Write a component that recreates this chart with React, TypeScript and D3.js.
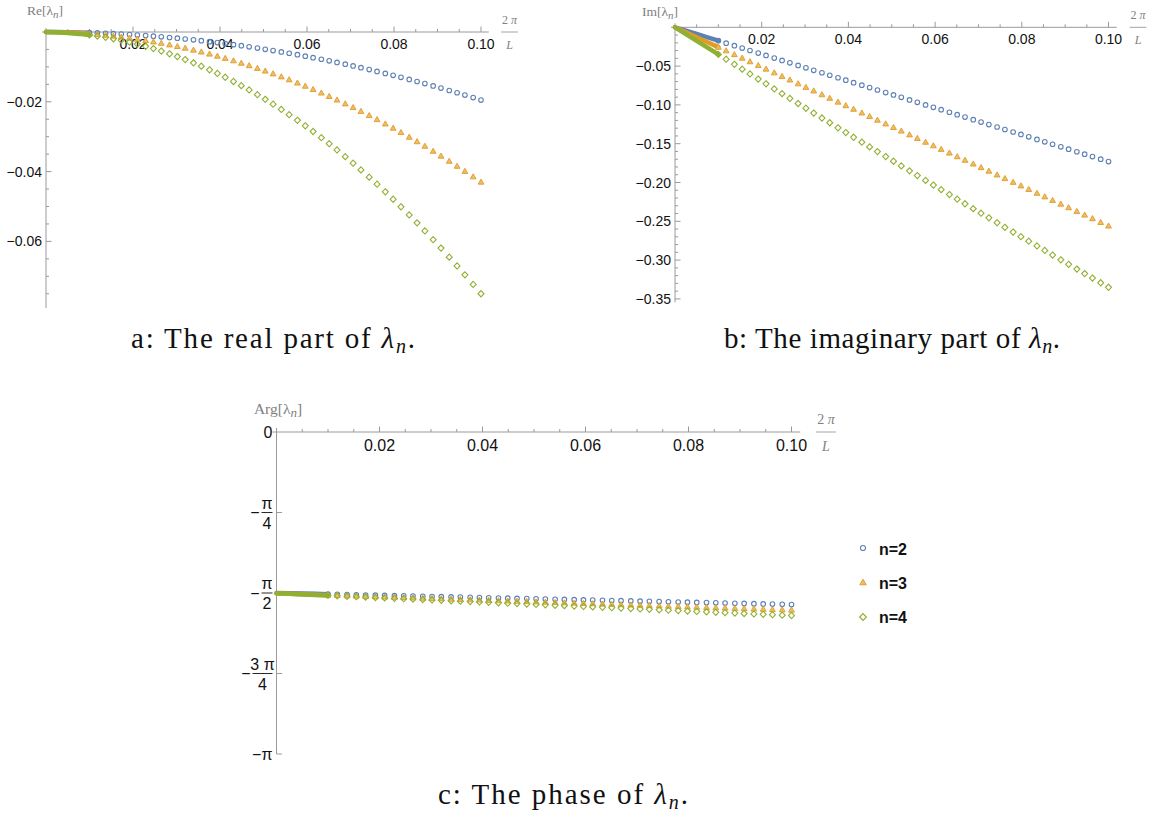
import React from 'react';
import * as d3 from 'd3';

// sampled values of 2π/L (sparse part of every curve)
const kValues = [
  0.0100, 0.0118, 0.0137, 0.0155, 0.0173, 0.0192, 0.0210, 0.0229, 0.0247, 0.0265,
  0.0284, 0.0302, 0.0320, 0.0339, 0.0357, 0.0376, 0.0394, 0.0412, 0.0431, 0.0449,
  0.0467, 0.0486, 0.0504, 0.0522, 0.0541, 0.0559, 0.0578, 0.0596, 0.0614, 0.0633,
  0.0651, 0.0669, 0.0688, 0.0706, 0.0724, 0.0743, 0.0761, 0.0780, 0.0798, 0.0816,
  0.0835, 0.0853, 0.0871, 0.0890, 0.0908, 0.0927, 0.0945, 0.0963, 0.0982, 0.1000,
];
// densely sampled start (0 .. 0.01), drawn as a smeared band
const kDense = [0, 0.0025, 0.005, 0.0075, 0.01];

const reN2 = [
  -0.0002, -0.00027, -0.00037, -0.00047, -0.00058, -0.00072, -0.00086, -0.00102, -0.00119, -0.00137,
  -0.00157, -0.00178, -0.0020, -0.00224, -0.00248, -0.00276, -0.00303, -0.00331, -0.00362, -0.00393,
  -0.00425, -0.00461, -0.00495, -0.00531, -0.00571, -0.00609, -0.00651, -0.00693, -0.00735, -0.00781,
  -0.00826, -0.00873, -0.00923, -0.00972, -0.01022, -0.01076, -0.01129, -0.01186, -0.01242, -0.01298,
  -0.0136, -0.01419, -0.01479, -0.01545, -0.01608, -0.01676, -0.01741, -0.01808, -0.0188, -0.0195,
];
const reN3 = [
  -0.00052, -0.0007, -0.00093, -0.00116, -0.00143, -0.00174, -0.00206, -0.00243, -0.00281, -0.00321,
  -0.00367, -0.00413, -0.00462, -0.00517, -0.00571, -0.00631, -0.00691, -0.00754, -0.00823, -0.00892,
  -0.00963, -0.01041, -0.01117, -0.01197, -0.01283, -0.01368, -0.01461, -0.01552, -0.01645, -0.01746,
  -0.01845, -0.01947, -0.02057, -0.02164, -0.02274, -0.02393, -0.02508, -0.02633, -0.02754, -0.02878,
  -0.03012, -0.03141, -0.03273, -0.03416, -0.03554, -0.03702, -0.03845, -0.03991, -0.04148, -0.043,
];
const reN4 = [
  -0.00084, -0.00115, -0.00153, -0.00193, -0.00239, -0.00292, -0.00347, -0.00411, -0.00476, -0.00546,
  -0.00625, -0.00705, -0.0079, -0.00884, -0.00979, -0.01084, -0.01188, -0.01297, -0.01418, -0.01537,
  -0.01661, -0.01797, -0.0193, -0.02069, -0.0222, -0.02369, -0.0253, -0.02688, -0.02851, -0.03028,
  -0.03201, -0.03379, -0.03571, -0.03759, -0.03951, -0.04159, -0.04361, -0.0458, -0.04792, -0.05009,
  -0.05243, -0.05469, -0.05701, -0.05951, -0.06192, -0.06451, -0.06703, -0.06959, -0.07234, -0.075,
];

const imN2 = [
  -0.0173, -0.0204, -0.0237, -0.0268, -0.0299, -0.0332, -0.0363, -0.0396, -0.0427, -0.0458,
  -0.0491, -0.0522, -0.0554, -0.0586, -0.0618, -0.065, -0.0682, -0.0713, -0.0746, -0.0777,
  -0.0808, -0.0841, -0.0872, -0.0903, -0.0936, -0.0967, -0.1, -0.1031, -0.1062, -0.1095,
  -0.1126, -0.1157, -0.119, -0.1221, -0.1253, -0.1285, -0.1317, -0.1349, -0.1381, -0.1412,
  -0.1445, -0.1476, -0.1507, -0.154, -0.1571, -0.1604, -0.1635, -0.1666, -0.1699, -0.173,
];
const imN3 = [
  -0.0256, -0.0302, -0.0351, -0.0397, -0.0443, -0.0492, -0.0538, -0.0586, -0.0632, -0.0678,
  -0.0727, -0.0773, -0.0819, -0.0868, -0.0914, -0.0963, -0.1009, -0.1055, -0.1103, -0.1149,
  -0.1196, -0.1244, -0.129, -0.1336, -0.1385, -0.1431, -0.148, -0.1526, -0.1572, -0.162,
  -0.1667, -0.1713, -0.1761, -0.1807, -0.1853, -0.1902, -0.1948, -0.1997, -0.2043, -0.2089,
  -0.2138, -0.2184, -0.223, -0.2278, -0.2324, -0.2373, -0.2419, -0.2465, -0.2514, -0.256,
];
const imN4 = [
  -0.0349, -0.0411, -0.0477, -0.0539, -0.0601, -0.0667, -0.0728, -0.0794, -0.0855, -0.0917,
  -0.0982, -0.1043, -0.1105, -0.1169, -0.123, -0.1295, -0.1356, -0.1417, -0.1481, -0.1541,
  -0.1602, -0.1666, -0.1726, -0.1786, -0.185, -0.191, -0.1973, -0.2033, -0.2092, -0.2155,
  -0.2215, -0.2274, -0.2337, -0.2396, -0.2455, -0.2518, -0.2577, -0.2639, -0.2698, -0.2756,
  -0.2818, -0.2876, -0.2935, -0.2996, -0.3054, -0.3116, -0.3174, -0.3231, -0.3292, -0.335,
];

const argN2 = [
  -1.5821, -1.5841, -1.5862, -1.5883, -1.5903, -1.5924, -1.5945, -1.5966, -1.5986, -1.6007,
  -1.6028, -1.6048, -1.6069, -1.609, -1.611, -1.6132, -1.6152, -1.6172, -1.6194, -1.6214,
  -1.6234, -1.6255, -1.6275, -1.6296, -1.6317, -1.6337, -1.6358, -1.6379, -1.6399, -1.642,
  -1.644, -1.646, -1.6482, -1.6502, -1.6522, -1.6543, -1.6563, -1.6585, -1.6605, -1.6625,
  -1.6646, -1.6666, -1.6686, -1.6708, -1.6728, -1.6749, -1.6769, -1.6789, -1.681, -1.683,
];
const argN3 = [
  -1.5911, -1.5941, -1.5972, -1.6001, -1.6031, -1.6062, -1.6092, -1.6123, -1.6152, -1.6182,
  -1.6213, -1.6242, -1.6272, -1.6302, -1.6332, -1.6363, -1.6392, -1.6422, -1.6453, -1.6482,
  -1.6512, -1.6543, -1.6572, -1.6601, -1.6632, -1.6661, -1.6692, -1.6721, -1.675, -1.6782,
  -1.6811, -1.684, -1.6871, -1.69, -1.6929, -1.696, -1.6989, -1.7019, -1.7048, -1.7077,
  -1.7108, -1.7137, -1.7166, -1.7196, -1.7225, -1.7256, -1.7284, -1.7313, -1.7344, -1.7372,
];
const argN4 = [
  -1.5949, -1.5988, -1.6028, -1.6067, -1.6105, -1.6146, -1.6185, -1.6225, -1.6264, -1.6303,
  -1.6344, -1.6383, -1.6422, -1.6463, -1.6502, -1.6543, -1.6582, -1.6621, -1.6662, -1.6702,
  -1.6741, -1.6782, -1.6822, -1.6861, -1.6902, -1.6942, -1.6983, -1.7023, -1.7062, -1.7104,
  -1.7143, -1.7183, -1.7225, -1.7264, -1.7303, -1.7345, -1.7385, -1.7427, -1.7466, -1.7505,
  -1.7547, -1.7587, -1.7626, -1.7668, -1.7708, -1.7749, -1.7789, -1.7828, -1.787, -1.7911,
];

const reDense = [
  [0, -0.00001, -0.00005, -0.00011, -0.0002],
  [0, -0.00005, -0.00016, -0.00031, -0.00052],
  [0, -0.0001, -0.00031, -0.00054, -0.00084],
];
const imDense = [
  [0, -0.0043, -0.0086, -0.0129, -0.0173],
  [0, -0.0064, -0.0128, -0.0192, -0.0256],
  [0, -0.0087, -0.0175, -0.0262, -0.0349],
];
const argDense = [
  [-1.5708, -1.5736, -1.5764, -1.5793, -1.5821],
  [-1.5747, -1.5788, -1.5829, -1.587, -1.5911],
  [-1.5737, -1.579, -1.5843, -1.5896, -1.5949],
];

const seriesLabels = ['n=2', 'n=3', 'n=4'];
const colors = ['#5e81b5', '#e19c24', '#8fb032'];
const shapes = ['circle', 'triangle', 'diamond'];

const kTicks = [0.02, 0.04, 0.06, 0.08, 0.1];
const reTicks = [-0.02, -0.04, -0.06];
const imTicks = [-0.05, -0.1, -0.15, -0.2, -0.25, -0.3, -0.35];
const argTicks = [0, -Math.PI / 4, -Math.PI / 2, (-3 * Math.PI) / 4, -Math.PI];
const argTickTop = ['0', 'π', 'π', '3 π', '−π'];
const argTickBottom = ['', '4', '2', '4', ''];

const SANS = 'Liberation Sans, Arial, sans-serif';
const SERIF = 'Liberation Serif, Times New Roman, serif';
const AXIS = '#9a9a9a';
const fmt = d3.format('.2f');
const near = (list: number[], v: number) => list.some((m) => Math.abs(m - v) < 1e-9);

function Marker({ shape, x, y, color, s = 1 }: any) {
  if (shape === 'circle')
    return <circle cx={x} cy={y} r={2.3 * s} fill="none" stroke={color} strokeWidth={1.1} />;
  if (shape === 'triangle')
    return (
      <path
        transform={`translate(${x},${y}) scale(${s})`}
        d="M0,-3L2.9,2.1L-2.9,2.1Z"
        fill="#ecbd6c"
        stroke={color}
        strokeWidth={0.9}
      />
    );
  return (
    <path
      transform={`translate(${x},${y}) scale(${s})`}
      d="M0,-3.1L3,0L0,3.1L-3,0Z"
      fill="none"
      stroke={color}
      strokeWidth={1.1}
    />
  );
}

function Panel(props: any) {
  const { x, y, xEnd, yEnd, yMajor, yMinor, fs, sparse, dense, name, nameX, nameY, fracX, argLabels } = props;
  const x0 = x(0);
  const y0 = y(0);
  const line = d3
    .line<[number, number]>()
    .x((d) => x(d[0]))
    .y((d) => y(d[1]));
  const xMinor = x.ticks(20).filter((v: number) => v > 0 && v <= xEnd && !near(kTicks, v));
  const fracFs = fs - 2;

  return (
    <g>
      {/* axes */}
      <line x1={x0 - 4} x2={x(xEnd)} y1={y0} y2={y0} stroke={AXIS} />
      <line x1={x0} x2={x0} y1={y0 - 4} y2={y(yEnd)} stroke={AXIS} />
      {xMinor.map((v: number) => (
        <line key={'xm' + v} x1={x(v)} x2={x(v)} y1={y0} y2={y0 - 3} stroke={AXIS} />
      ))}
      {kTicks.map((v) => (
        <g key={'xt' + v}>
          <line x1={x(v)} x2={x(v)} y1={y0} y2={y0 - 5.5} stroke={AXIS} />
          <text x={x(v)} y={y0 + fs * 1.2} textAnchor="middle" fontSize={fs} fontFamily={SANS} fill="#111">
            {fmt(v)}
          </text>
        </g>
      ))}
      {yMinor.map((v: number) => (
        <line key={'ym' + v} x1={x0} x2={x0 + 3} y1={y(v)} y2={y(v)} stroke={AXIS} />
      ))}
      {yMajor.map((v: number, i: number) => (
        <g key={'yt' + i}>
          {v !== 0 && <line x1={x0} x2={x0 + 5.5} y1={y(v)} y2={y(v)} stroke={AXIS} />}
          {argLabels ? (
            argLabels(v, i, x0 - 4, y(v))
          ) : (
            <text x={x0 - 4} y={y(v)} dy="0.36em" textAnchor="end" fontSize={fs} fontFamily={SANS} fill="#111">
              {fmt(v)}
            </text>
          )}
        </g>
      ))}
      {/* axis names */}
      <text x={nameX} y={nameY} textAnchor="middle" fontSize={fs - 0.5} fontFamily={SERIF} fill="#808080">
        {name}[λ
        <tspan fontStyle="italic" fontSize={fs - 3} dy={3}>
          n
        </tspan>
        <tspan dy={-3}>]</tspan>
      </text>
      <text x={fracX} y={y0 - 8} textAnchor="middle" fontSize={fracFs} fontFamily={SERIF} fill="#808080">
        2 <tspan fontStyle="italic">π</tspan>
      </text>
      <line x1={fracX - fracFs * 0.7} x2={fracX + fracFs * 0.7} y1={y0} y2={y0} stroke="#9a9a9a" strokeWidth={0.9} />
      <text x={fracX} y={y0 + fracFs + 5} textAnchor="middle" fontSize={fracFs} fontStyle="italic" fontFamily={SERIF} fill="#808080">
        L
      </text>
      {/* data */}
      {sparse.map((ys: number[], i: number) => (
        <g key={'s' + i}>
          <path
            d={line(kDense.map((k, j) => [k, dense[i][j]]) as [number, number][]) || ''}
            fill="none"
            stroke={colors[i]}
            strokeWidth={4.5}
            strokeLinecap="round"
          />
          {kValues.map((k, j) => (
            <Marker key={j} shape={shapes[i]} x={x(k)} y={y(ys[j])} color={colors[i]} />
          ))}
        </g>
      ))}
    </g>
  );
}

function Caption({ x, y, tag, body, width }: any) {
  return (
    <text
      x={x}
      y={y}
      textAnchor="middle"
      fontSize={29}
      textLength={width}
      lengthAdjust="spacing"
      fontFamily={SERIF}
      fill="#111"
    >
      {tag}: {body} <tspan fontStyle="italic">λ</tspan>
      <tspan fontStyle="italic" fontSize={20} dy={5}>
        n
      </tspan>
      <tspan dy={-5}>.</tspan>
    </text>
  );
}

export default function App() {
  // panel a: real part
  const xa = d3.scaleLinear().domain([0, 0.1]).range([46, 481]);
  const ya = d3.scaleLinear().domain([0, -0.08]).range([32, 311.2]);
  const yaMinor = ya.ticks(16).filter((v) => v < 0 && v >= -0.0789 && !near(reTicks, v));

  // panel b: imaginary part
  const xb = d3.scaleLinear().domain([0, 0.1]).range([675, 1108.5]);
  const yb = d3.scaleLinear().domain([0, -0.35]).range([27.3, 298.9]);
  const ybMinor = yb.ticks(35).filter((v) => v < 0 && v >= -0.3545 && !near(imTicks, v));

  // panel c: phase
  const xc = d3.scaleLinear().domain([0, 0.1]).range([276.5, 791.5]);
  const yc = d3.scaleLinear().domain([0, -Math.PI]).range([432, 754]);

  const argLabels = (v: number, i: number, xr: number, yy: number) => {
    const top = argTickTop[i];
    const bottom = argTickBottom[i];
    if (!bottom)
      return (
        <text x={xr} y={yy} dy="0.36em" textAnchor="end" fontSize={16} fontFamily={SANS} fill="#111">
          {top}
        </text>
      );
    const w = top.length > 1 ? 20 : 11;
    const cx = xr - w / 2;
    return (
      <g fontSize={16} fontFamily={SANS} fill="#111">
        <text x={cx - w / 2 - 2} y={yy} dy="0.36em" textAnchor="end">
          −
        </text>
        <text x={cx} y={yy - 4} textAnchor="middle">
          {top}
        </text>
        <line x1={cx - w / 2} x2={cx + w / 2} y1={yy} y2={yy} stroke="#111" strokeWidth={0.9} />
        <text x={cx} y={yy + 16} textAnchor="middle">
          {bottom}
        </text>
      </g>
    );
  };

  return (
    <div style={{ position: 'absolute', left: 0, top: 0 }}>
      <svg width={1153} height={818} style={{ display: 'block', background: '#fff' }}>
        <Panel
          x={xa}
          y={ya}
          xEnd={0.1018}
          yEnd={-0.0791}
          yMajor={reTicks}
          yMinor={yaMinor}
          fs={14}
          sparse={[reN2, reN3, reN4]}
          dense={reDense}
          name="Re"
          nameX={45}
          nameY={15}
          fracX={509.5}
        />
        <Panel
          x={xb}
          y={yb}
          xEnd={0.1019}
          yEnd={-0.3545}
          yMajor={imTicks}
          yMinor={ybMinor}
          fs={14}
          sparse={[imN2, imN3, imN4]}
          dense={imDense}
          name="Im"
          nameX={660}
          nameY={16}
          fracX={1138}
        />
        <Panel
          x={xc}
          y={yc}
          xEnd={0.1017}
          yEnd={-Math.PI}
          yMajor={argTicks}
          yMinor={[]}
          fs={16}
          sparse={[argN2, argN3, argN4]}
          dense={argDense}
          name="Arg"
          nameX={278}
          nameY={414}
          fracX={826}
          argLabels={argLabels}
        />

        {/* legend */}
        {seriesLabels.map((s, i) => (
          <g key={s}>
            <Marker shape={shapes[i]} x={863} y={548 + i * 34.5} color={colors[i]} s={1.1} />
            <text x={879} y={555 + i * 34} fontSize={16} fontWeight="bold" fontFamily={SANS} fill="#111">
              {s}
            </text>
          </g>
        ))}

        <Caption x={273} y={348} tag="a" body="The real part of" width={284} />
        <Caption x={892} y={348} tag="b" body="The imaginary part of" width={336} />
        <Caption x={563} y={804} tag="c" body="The phase of" width={250} />
      </svg>
    </div>
  );
}
